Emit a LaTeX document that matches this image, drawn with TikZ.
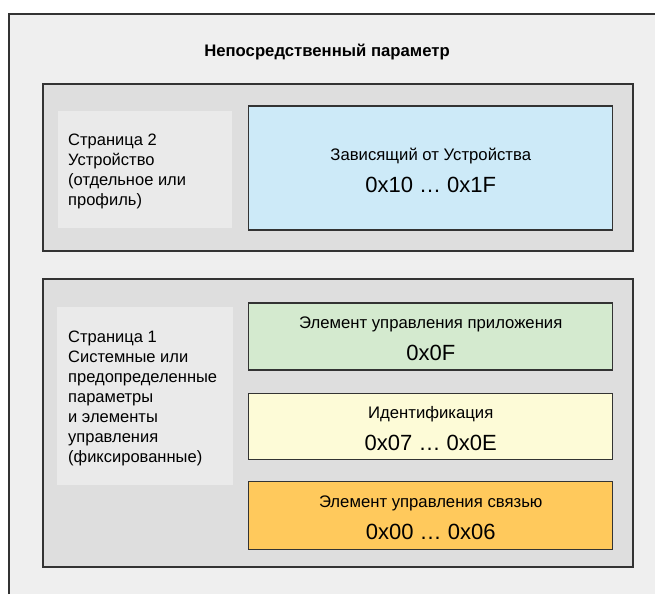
\documentclass[tikz,border=0pt]{standalone}
\usepackage{fontspec}
\setmainfont{Liberation Sans}
\usetikzlibrary{positioning}

\definecolor{framebg}{HTML}{EFEFEF}
\definecolor{pagebg}{HTML}{DEDEDE}
\definecolor{panelbg}{HTML}{EAEAEA}
\definecolor{linecol}{HTML}{333333}
\definecolor{devblue}{HTML}{CDEAF8}
\definecolor{appgreen}{HTML}{D4EACF}
\definecolor{idyellow}{HTML}{FDFBD7}
\definecolor{comorange}{HTML}{FFC95C}

\begin{document}
\begin{tikzpicture}[
    x=1pt, y=-1pt,
    page/.style={draw=linecol, line width=1.2pt, fill=pagebg, minimum width=590pt},
    panel/.style={fill=panelbg, inner sep=0pt},
    field/.style={draw=linecol, line width=1.2pt, minimum width=364pt, inner sep=0pt},
    side/.style={anchor=west, align=left, inner sep=0pt, font=\fontsize{16.5}{20}\selectfont},
    flabel/.style={anchor=base, inner sep=0pt, font=\fontsize{16.7}{20}\selectfont},
    fhex/.style={anchor=base, inner sep=0pt, font=\fontsize{22}{26}\selectfont}
]

  \useasboundingbox (0,0) rectangle (655,594);

  % outer frame (open to the right and bottom)
  \fill[framebg] (9,14) rectangle (655,594);
  \draw[linecol, line width=1.5pt] (9,594) -- (9,14) -- (655,14);

  \node[inner sep=0pt, font=\bfseries\fontsize{16.7}{20}\selectfont] (title) at (327,52) {Непосредственный параметр};

  % page 2
  \node[page, minimum height=167pt] (page2) at (338,167.5) {};
  \node[panel, minimum width=174pt, minimum height=117pt] (panel2) at (145,169.5) {};
  \node[field, fill=devblue, minimum height=124pt] (dev) at (430.75,168) {};
  \node[side] (side2) at (68,171) {Страница 2\\Устройство\\(отдельное или\\профиль)};

  % page 1
  \node[page, minimum height=288pt] (page1) at (338,423) {};
  \node[panel, minimum width=176pt, minimum height=178pt] (panel1) at (144.5,396) {};
  \node[field, fill=appgreen, minimum height=67pt] (app) at (430.75,336.5) {};
  \node[field, fill=idyellow, minimum height=66pt, below=22pt of app] (ident) {};
  \node[field, fill=comorange, minimum height=68pt, below=21pt of ident] (com) {};
  \node[side] (side1) at (68,398) {Страница 1\\Системные или\\предопределенные\\параметры\\и элементы\\управления\\(фиксированные)};

  % field texts
  \foreach \f/\l/\h in {dev/{Зависящий от Устройства}/{0x10 … 0x1F},
                        app/{Элемент управления приложения}/{0x0F},
                        ident/{Идентификация}/{0x07 … 0x0E},
                        com/{Элемент управления связью}/{0x00 … 0x06}}
  {
    \node[flabel] (\f-l) at ([yshift=8pt]\f.center) {\l};
    \node[fhex] (\f-h) at ([yshift=-24pt]\f.center) {\h};
  }

\end{tikzpicture}
\end{document}
